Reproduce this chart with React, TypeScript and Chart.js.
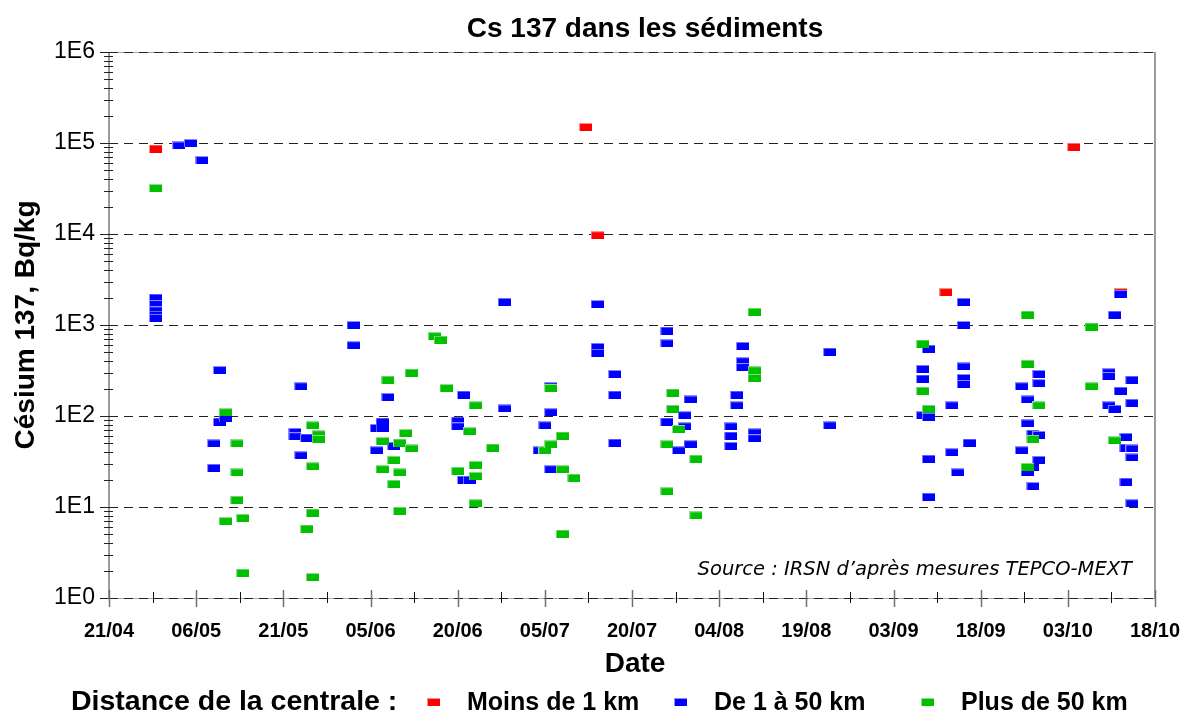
import { useEffect, useRef } from 'react';
import { Chart, registerables } from 'chart.js';

Chart.register(...registerables);

const FONT = "'Liberation Sans', Arial, Helvetica, sans-serif";

// X axis: tick labels every 15 days, starting 21/04 (2011)
const xTickLabels = ['21/04', '06/05', '21/05', '05/06', '20/06', '05/07', '20/07', '04/08', '19/08', '03/09', '18/09', '03/10', '18/10'];
const yTickLabels = ['1E0', '1E1', '1E2', '1E3', '1E4', '1E5', '1E6'];

const seriesNames = ['Moins de 1 km', 'De 1 à 50 km', 'Plus de 50 km'];

// [date dd/mm, Bq/kg]
const moinsDe1km: [string, number][] = [
  ['29/04', 87000], ['12/07', 150000], ['14/07', 9700], ['12/09', 2300], ['04/10', 91000], ['12/10', 2300],
];

const de1a50km: [string, number][] = [
  ['29/04', 2000], ['29/04', 1700], ['29/04', 1450], ['29/04', 1300], ['29/04', 1200],
  ['03/05', 94000], ['05/05', 100000], ['07/05', 65000],
  ['09/05', 50], ['09/05', 27], ['10/05', 87], ['10/05', 320], ['11/05', 94],
  ['23/05', 67], ['23/05', 60], ['24/05', 212], ['24/05', 37], ['25/05', 58],
  ['02/06', 1000], ['02/06', 600],
  ['06/06', 42], ['06/06', 74], ['07/06', 73], ['07/06', 87], ['08/06', 162], ['09/06', 47],
  ['20/06', 89], ['20/06', 77], ['21/06', 20], ['21/06', 172], ['22/06', 20],
  ['28/06', 1800], ['28/06', 121],
  ['04/07', 42], ['05/07', 79], ['06/07', 212], ['06/07', 110], ['06/07', 26],
  ['14/07', 1700], ['14/07', 575], ['14/07', 495],
  ['17/07', 290], ['17/07', 172], ['17/07', 51],
  ['26/07', 870], ['26/07', 630], ['26/07', 87],
  ['28/07', 42], ['29/07', 77], ['29/07', 102], ['30/07', 152], ['30/07', 49],
  ['06/08', 77], ['06/08', 61], ['06/08', 47], ['07/08', 172], ['07/08', 131],
  ['08/08', 590], ['08/08', 400], ['08/08', 345], ['10/08', 66], ['10/08', 57],
  ['23/08', 510], ['23/08', 79],
  ['08/09', 330], ['08/09', 258], ['08/09', 102],
  ['09/09', 550], ['09/09', 98], ['09/09', 34], ['09/09', 13],
  ['13/09', 131], ['13/09', 40], ['14/09', 24],
  ['15/09', 1800], ['15/09', 1000], ['15/09', 350], ['15/09', 262], ['15/09', 225], ['16/09', 51],
  ['25/09', 212], ['25/09', 42], ['26/09', 152], ['26/09', 83], ['26/09', 24],
  ['27/09', 64], ['27/09', 27.6], ['27/09', 17],
  ['28/09', 290], ['28/09', 230], ['28/09', 62], ['28/09', 33],
  ['10/10', 303], ['10/10', 275], ['10/10', 131], ['11/10', 1300], ['11/10', 120],
  ['12/10', 2200], ['12/10', 190], ['13/10', 59], ['13/10', 45], ['13/10', 19],
  ['14/10', 251], ['14/10', 140], ['14/10', 44], ['14/10', 35], ['14/10', 11],
];

const plusDe50km: [string, number][] = [
  ['29/04', 32000],
  ['11/05', 110], ['11/05', 7.0],
  ['13/05', 50], ['13/05', 24], ['13/05', 12],
  ['14/05', 7.6], ['14/05', 1.9],
  ['25/05', 5.8],
  ['26/05', 79], ['26/05', 28], ['26/05', 8.7], ['26/05', 1.7],
  ['27/05', 63], ['27/05', 56],
  ['07/06', 53], ['07/06', 26],
  ['08/06', 251],
  ['09/06', 33], ['09/06', 18],
  ['10/06', 51], ['10/06', 24], ['10/06', 9.1],
  ['11/06', 65],
  ['12/06', 300], ['12/06', 44],
  ['16/06', 755], ['17/06', 690], ['18/06', 203],
  ['20/06', 25], ['22/06', 68],
  ['23/06', 131], ['23/06', 29], ['23/06', 22], ['23/06', 11],
  ['26/06', 45],
  ['05/07', 42], ['06/07', 203], ['06/07', 49],
  ['08/07', 61], ['08/07', 26], ['08/07', 5.1],
  ['10/07', 21],
  ['26/07', 49], ['26/07', 14.9],
  ['27/07', 181], ['27/07', 120],
  ['28/07', 72],
  ['31/07', 34], ['31/07', 8.1],
  ['10/08', 1400], ['10/08', 318], ['10/08', 262],
  ['08/09', 625], ['08/09', 190],
  ['09/09', 120],
  ['26/09', 1300], ['26/09', 375], ['26/09', 27.6],
  ['27/09', 56],
  ['28/09', 131],
  ['07/10', 960], ['07/10', 212],
  ['11/10', 54],
];

const seriesColors = ['#ff0000', '#0000ff', '#00c000'];
const seriesEdges = ['#ff8c8c', '#8c8cff', '#8cdc8c'];

function dayOf(s: string): number {
  const [d, m] = s.split('/').map(Number);
  return Math.round((Date.UTC(2011, m - 1, d) - Date.UTC(2011, 3, 21)) / 86400000);
}

function toPoints(list: [string, number][]) {
  return list.map(([d, v]) => ({ x: dayOf(d), y: v }));
}

function makeMarker(core: string, edge: string): HTMLCanvasElement {
  const c = document.createElement('canvas');
  c.width = 13;
  c.height = 8;
  const g = c.getContext('2d')!;
  g.fillStyle = edge;
  g.fillRect(0, 0, 13, 8);
  g.fillStyle = core;
  g.fillRect(1, 1, 12, 7);
  return c;
}

function isDecade(v: number) {
  const l = Math.log10(v);
  return Math.abs(l - Math.round(l)) < 1e-9;
}

export default function App() {
  const ref = useRef<HTMLCanvasElement | null>(null);

  useEffect(() => {
    const canvas = ref.current;
    if (!canvas) return;
    const markers = seriesColors.map((c, i) => makeMarker(c, seriesEdges[i]));

    const decor = {
      id: 'decor',
      beforeDraw(chart: any) {
        const { ctx, chartArea: a } = chart;
        ctx.save();
        ctx.fillStyle = '#ffffff';
        ctx.fillRect(0, 0, chart.width, chart.height);
        ctx.strokeStyle = '#a8a8a8';
        ctx.lineWidth = 1;
        ctx.beginPath();
        ctx.moveTo(a.left, Math.round(a.top) + 0.5);
        ctx.lineTo(a.right, Math.round(a.top) + 0.5);
        ctx.moveTo(a.left, Math.round(a.bottom) + 0.5);
        ctx.lineTo(a.right, Math.round(a.bottom) + 0.5);
        ctx.stroke();
        ctx.restore();
      },
      afterDraw(chart: any) {
        const { ctx, chartArea: a } = chart;
        const xs = chart.scales.x;
        const ys = chart.scales.y;
        ctx.save();
        // left axis and right border
        ctx.strokeStyle = '#7a7a7a';
        ctx.lineWidth = 1.5;
        ctx.beginPath();
        ctx.moveTo(a.left, a.top);
        ctx.lineTo(a.left, a.bottom + 1);
        ctx.stroke();
        ctx.beginPath();
        ctx.moveTo(a.right, a.top);
        ctx.lineTo(a.right, a.bottom + 1);
        ctx.stroke();
        // y tick marks (crossing the axis)
        ys.ticks.forEach((t: any) => {
          const py = Math.round(ys.getPixelForValue(t.value)) + 0.5;
          ctx.strokeStyle = '#222';
          ctx.lineWidth = 1;
          ctx.beginPath();
          if (isDecade(t.value)) {
            ctx.moveTo(a.left - 9, py);
            ctx.lineTo(a.left + 9, py);
          } else {
            ctx.moveTo(a.left - 5, py);
            ctx.lineTo(a.left + 4, py);
          }
          ctx.stroke();
        });
        // x tick marks
        xs.ticks.forEach((t: any) => {
          const px = Math.round(xs.getPixelForValue(t.value)) + 0.5;
          const major = t.value % 15 === 0;
          ctx.beginPath();
          if (major) {
            ctx.strokeStyle = '#707070';
            ctx.lineWidth = 1.5;
            ctx.moveTo(px, a.bottom - 8);
            ctx.lineTo(px, a.bottom + 9);
          } else {
            ctx.strokeStyle = '#111';
            ctx.lineWidth = 1;
            ctx.moveTo(px, a.bottom - 6);
            ctx.lineTo(px, a.bottom + 5);
          }
          ctx.stroke();
        });

        ctx.fillStyle = '#000';
        // title
        ctx.font = `bold 28px ${FONT}`;
        ctx.textAlign = 'center';
        ctx.textBaseline = 'alphabetic';
        ctx.fillText('Cs 137 dans les sédiments', 645, 37);
        // x title
        ctx.fillText('Date', (a.left + a.right) / 2 + 3, 672);
        // y title
        ctx.save();
        ctx.translate(34, (a.top + a.bottom) / 2);
        ctx.rotate(-Math.PI / 2);
        ctx.fillText('Césium 137, Bq/kg', 0, 0);
        ctx.restore();
        // source
        ctx.font = `italic 19.5px 'DejaVu Sans', Verdana, sans-serif`;
        ctx.textAlign = 'right';
        ctx.fillText('Source : IRSN d’après mesures TEPCO-MEXT', 1132, 575);
        // legend
        ctx.textAlign = 'left';
        ctx.font = `bold 28.5px ${FONT}`;
        ctx.fillText('Distance de la centrale :', 71, 710);
        ctx.font = `bold 25px ${FONT}`;
        const legendX = [427, 674, 921];
        seriesNames.forEach((name, i) => {
          ctx.drawImage(markers[i], legendX[i], 698);
          ctx.fillText(name, legendX[i] + 40, 710);
        });
        ctx.restore();
      },
    };

    const chart = new Chart(canvas, {
      type: 'scatter',
      data: {
        datasets: [
          { label: seriesNames[0], data: toPoints(moinsDe1km), order: 3, pointStyle: markers[0] as any, pointRadius: 6, backgroundColor: seriesColors[0], borderColor: seriesColors[0] },
          { label: seriesNames[1], data: toPoints(de1a50km), order: 2, pointStyle: markers[1] as any, pointRadius: 6, backgroundColor: seriesColors[1], borderColor: seriesColors[1] },
          { label: seriesNames[2], data: toPoints(plusDe50km), order: 1, pointStyle: markers[2] as any, pointRadius: 6, backgroundColor: seriesColors[2], borderColor: seriesColors[2] },
        ],
      },
      options: {
        animation: false,
        responsive: false,
        events: [],
        layout: { padding: { left: 0, top: 52, right: 27, bottom: 0 } },
        plugins: {
          legend: { display: false },
          title: { display: false },
          tooltip: { enabled: false },
        },
        scales: {
          x: {
            type: 'linear',
            min: 0,
            max: 180,
            afterBuildTicks: (s: any) => {
              const t = [];
              for (let v = 0; v <= 180; v += 7.5) t.push({ value: v });
              s.ticks = t;
            },
            afterFit: (s: any) => {
              s.height = 115;
              s.paddingLeft = 0;
              s.paddingRight = 0;
            },
            grid: { display: false, drawTicks: false },
            border: { display: false },
            ticks: {
              autoSkip: false,
              maxRotation: 0,
              padding: 21,
              color: '#000',
              font: { family: FONT, size: 20, weight: 'bold' },
              callback: (v: any) => (Number(v) % 15 === 0 ? xTickLabels[Number(v) / 15] : ''),
            },
          },
          y: {
            type: 'logarithmic',
            min: 1,
            max: 1e6,
            afterBuildTicks: (s: any) => {
              const t = [];
              for (let e = 0; e <= 6; e++) {
                for (let k = 1; k <= 9; k++) {
                  if (e === 6 && k > 1) break;
                  t.push({ value: k * Math.pow(10, e), major: k === 1 });
                }
              }
              s.ticks = t;
            },
            afterFit: (s: any) => {
              s.width = 109;
              s.paddingTop = 0;
              s.paddingBottom = 0;
            },
            grid: {
              drawTicks: false,
              lineWidth: 1,
              color: (c: any) => (c.tick && isDecade(c.tick.value) ? '#222' : 'rgba(0,0,0,0)'),
            },
            border: { display: false, dash: [9, 6] },
            ticks: {
              autoSkip: false,
              padding: 14,
              color: '#000',
              font: { family: FONT, size: 23 },
              callback: (v: any) => (isDecade(Number(v)) ? yTickLabels[Math.round(Math.log10(Number(v)))] : ''),
            },
          },
        },
      } as any,
      plugins: [decor],
    });

    return () => chart.destroy();
  }, []);

  return (
    <div style={{ position: 'absolute', left: 0, top: 0, width: 1182, height: 713, background: '#fff' }}>
      <canvas ref={ref} width={1182} height={713} style={{ display: 'block', width: 1182, height: 713 }} />
    </div>
  );
}
